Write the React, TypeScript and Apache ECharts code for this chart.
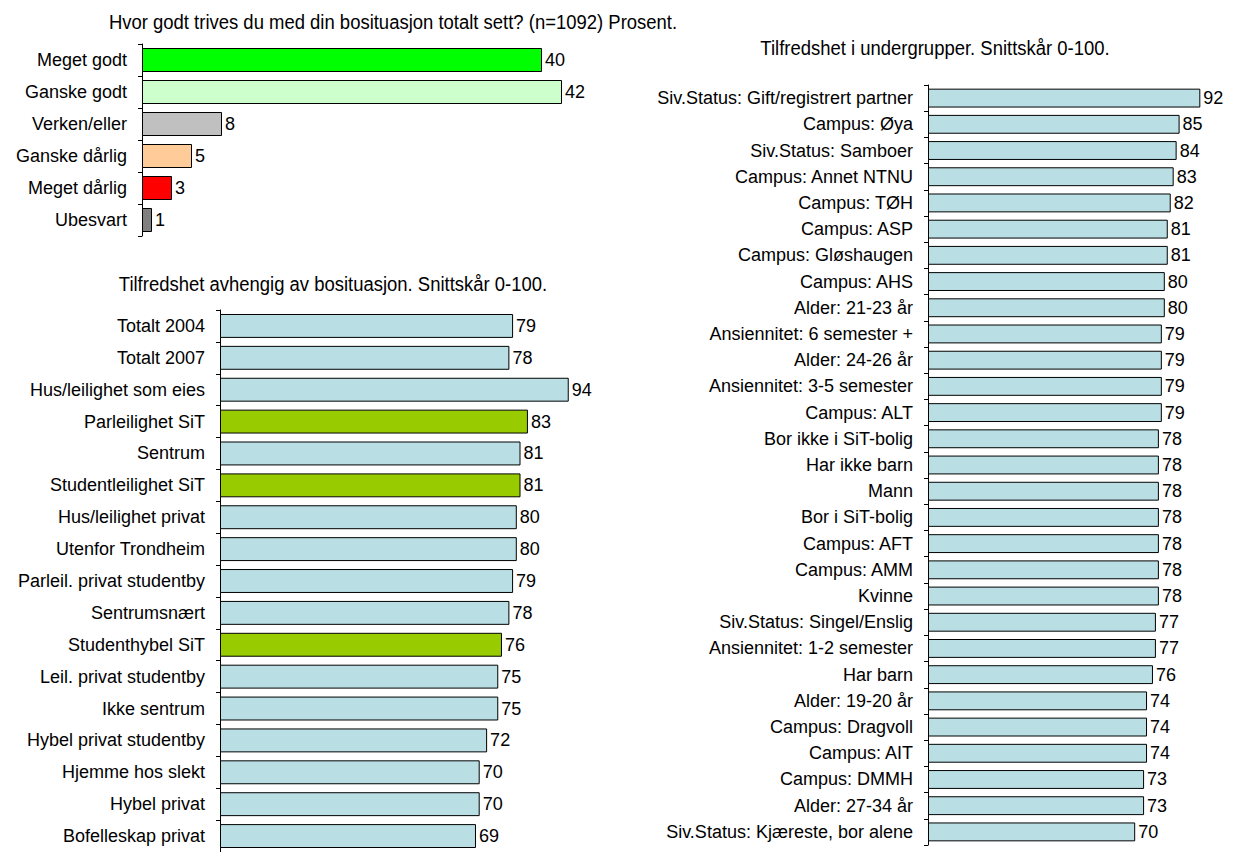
import React, { useEffect, useRef } from "react";
import * as echarts from "echarts";

const topTitle = "Hvor godt trives du med din bosituasjon totalt sett? (n=1092) Prosent.";
const topCategories = ["Meget godt", "Ganske godt", "Verken/eller", "Ganske dårlig", "Meget dårlig", "Ubesvart"];
const topValues = [40, 42, 8, 5, 3, 1];
const topColors = ["#00FF00", "#CCFFCC", "#C0C0C0", "#FFCC99", "#FF0000", "#808080"];

const leftTitle = "Tilfredshet avhengig av bosituasjon. Snittskår 0-100.";
const leftCategories = [
  "Totalt 2004", "Totalt 2007", "Hus/leilighet som eies", "Parleilighet SiT", "Sentrum",
  "Studentleilighet SiT", "Hus/leilighet privat", "Utenfor Trondheim", "Parleil. privat studentby",
  "Sentrumsnært", "Studenthybel SiT", "Leil. privat studentby", "Ikke sentrum",
  "Hybel privat studentby", "Hjemme hos slekt", "Hybel privat", "Bofelleskap privat",
];
const leftValues = [79, 78, 94, 83, 81, 81, 80, 80, 79, 78, 76, 75, 75, 72, 70, 70, 69];
const leftHighlighted = ["Parleilighet SiT", "Studentleilighet SiT", "Studenthybel SiT"];

const rightTitle = "Tilfredshet i undergrupper. Snittskår 0-100.";
const rightCategories = [
  "Siv.Status: Gift/registrert partner", "Campus: Øya", "Siv.Status: Samboer", "Campus: Annet NTNU",
  "Campus: TØH", "Campus: ASP", "Campus: Gløshaugen", "Campus: AHS", "Alder: 21-23 år",
  "Ansiennitet: 6 semester +", "Alder: 24-26 år", "Ansiennitet: 3-5 semester", "Campus: ALT",
  "Bor ikke i SiT-bolig", "Har ikke barn", "Mann", "Bor i SiT-bolig", "Campus: AFT", "Campus: AMM",
  "Kvinne", "Siv.Status: Singel/Enslig", "Ansiennitet: 1-2 semester", "Har barn", "Alder: 19-20 år",
  "Campus: Dragvoll", "Campus: AIT", "Campus: DMMH", "Alder: 27-34 år", "Siv.Status: Kjæreste, bor alene",
];
const rightValues = [92, 85, 84, 83, 82, 81, 81, 80, 80, 79, 79, 79, 79, 78, 78, 78, 78, 78, 78, 78, 77, 77, 76, 74, 74, 74, 73, 73, 70];

const BLUE = "#B9DFE4";
const SIT_GREEN = "#99CC00";
const FONT = "'Liberation Sans', Arial, sans-serif";
const LABEL_SIZE = 18;

export default function App() {
  const ref = useRef<HTMLDivElement>(null);
  useEffect(() => {
    if (!ref.current) return;
    const chart = echarts.init(ref.current, null, { renderer: "svg" });

    const yAxisBase = (gridIndex: number, data: string[]) => ({
      type: "category",
      gridIndex,
      data,
      inverse: true,
      axisLine: { show: true, lineStyle: { color: "#000", width: 1 } },
      axisTick: { show: true, length: 4, lineStyle: { color: "#000" } },
      axisLabel: { color: "#000", fontSize: LABEL_SIZE, fontFamily: FONT, margin: 15 },
      splitLine: { show: false },
    });
    const xAxisBase = (gridIndex: number, max: number) => ({
      type: "value",
      gridIndex,
      min: 0,
      max,
      show: false,
      splitLine: { show: false },
    });
    const labelCfg = {
      show: true,
      position: "right",
      distance: 3,
      color: "#000",
      fontSize: LABEL_SIZE,
      fontFamily: FONT,
    };
    const titleEl = (text: string, x: number, y: number) => ({
      type: "text",
      x,
      y,
      scaleX: 0.88,
      style: {
        text,
        fill: "#000",
        font: `21px ${FONT}`,
        textAlign: "center",
        textVerticalAlign: "middle",
      },
    });

    chart.setOption({
      animation: false,
      grid: [
        { left: 142, top: 44, width: 500, height: 192 },
        { left: 220, top: 310, width: 371, height: 548 },
        { left: 928, top: 85, width: 296, height: 760 },
      ],
      xAxis: [xAxisBase(0, 50), xAxisBase(1, 100), xAxisBase(2, 100)],
      yAxis: [yAxisBase(0, topCategories), yAxisBase(1, leftCategories), yAxisBase(2, rightCategories)],
      series: [
        {
          type: "bar",
          xAxisIndex: 0,
          yAxisIndex: 0,
          barCategoryGap: "25%",
          data: topValues.map((v, i) => ({ value: v, itemStyle: { color: topColors[i] } })),
          itemStyle: { borderColor: "#000", borderWidth: 1 },
          label: labelCfg,
        },
        {
          type: "bar",
          xAxisIndex: 1,
          yAxisIndex: 1,
          barCategoryGap: "25%",
          data: leftValues.map((v, i) => ({
            value: v,
            itemStyle: { color: leftHighlighted.includes(leftCategories[i]) ? SIT_GREEN : BLUE },
          })),
          itemStyle: { borderColor: "#000", borderWidth: 1 },
          label: labelCfg,
        },
        {
          type: "bar",
          xAxisIndex: 2,
          yAxisIndex: 2,
          barCategoryGap: "28%",
          data: rightValues,
          itemStyle: { color: BLUE, borderColor: "#000", borderWidth: 1 },
          label: labelCfg,
        },
      ],
      graphic: [
        titleEl(topTitle, 393, 22),
        titleEl(leftTitle, 333, 284),
        titleEl(rightTitle, 935, 48),
      ],
    });
    return () => chart.dispose();
  }, []);
  return (
    <div
      ref={ref}
      style={{ position: "absolute", left: 0, top: 0, width: 1238, height: 852, background: "#fff" }}
    />
  );
}
